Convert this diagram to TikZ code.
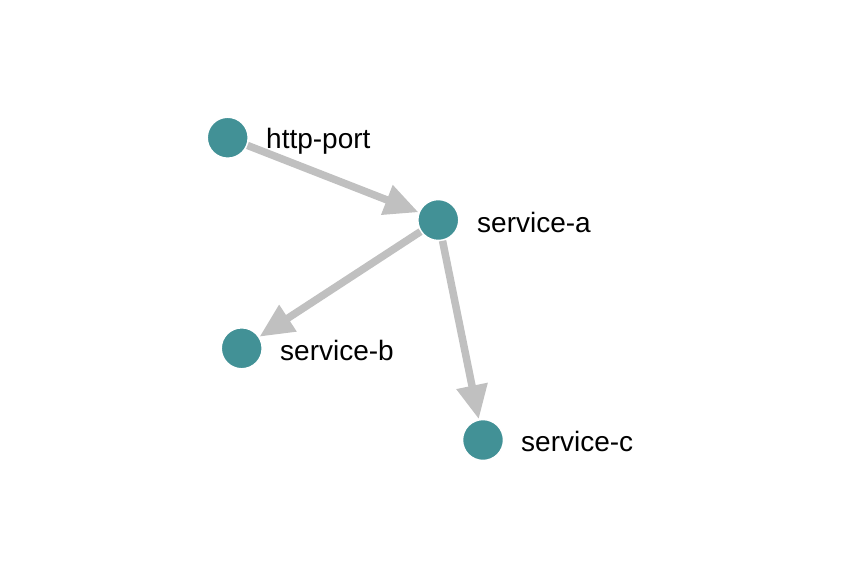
\documentclass[tikz,border=0pt]{standalone}
\usepackage{fontspec}
\setmainfont{Liberation Sans}
\usetikzlibrary{arrows.meta}
\definecolor{teal1}{RGB}{66,145,150}
\definecolor{edgegray}{RGB}{192,192,192}
\begin{document}
\begin{tikzpicture}[x=1pt,y=-1pt,
  svc/.style={circle,fill=teal1,draw=white,line width=1.5pt,minimum size=41pt,inner sep=0pt},
  lbl/.style={anchor=base west,inner sep=0pt,font=\fontsize{28}{31}\selectfont,text=black},
  link/.style={draw=edgegray,line width=7.5pt,-{Triangle[length=34pt,width=30pt]}}]
\useasboundingbox (0,0) rectangle (858,574);
\node[svc] (hp) at (227.7,137.7) {};
\node[svc] (sa) at (438.3,220) {};
\node[svc] (sb) at (241.7,348.3) {};
\node[svc] (sc) at (483,440) {};
\node[lbl] (lhp) at (266,148.5) {http-port};
\node[lbl] (lsa) at (477,232.5) {service-a};
\node[lbl] (lsb) at (280,360) {service-b};
\node[lbl] (lsc) at (521,451.5) {service-c};
\draw[link] (hp) -- (sa);
\draw[link] (sa) -- (sb);
\draw[link] (sa) -- (sc);
\end{tikzpicture}
\end{document}
